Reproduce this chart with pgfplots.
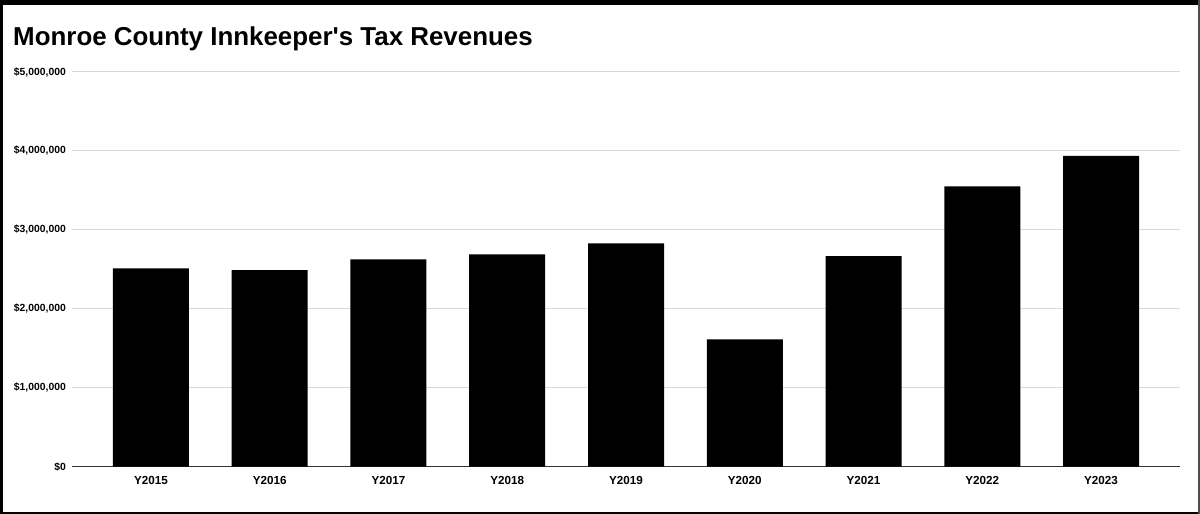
\documentclass[border=0pt]{standalone}
\usepackage{fontspec}
\setmainfont{Liberation Sans}
\usepackage{pgfplots}
\pgfplotsset{compat=1.18}
\definecolor{gridgray}{HTML}{D9D9D9}
\begin{document}
\begin{tikzpicture}
\useasboundingbox (0bp,0bp) rectangle (1200bp,514bp);
\fill[white] (0bp,0bp) rectangle (1200bp,514bp);
\begin{axis}[
  at={(72bp,47.3bp)}, anchor=south west,
  scale only axis, width=1108bp, height=394.7bp,
  ybar, bar width=76bp,
  xmin=-0.665, xmax=8.665, ymin=0, ymax=5000000,
  scaled y ticks=false,
  xtick=data,
  xticklabels={Y2015,Y2016,Y2017,Y2018,Y2019,Y2020,Y2021,Y2022,Y2023},
  ytick={0,1000000,2000000,3000000,4000000,5000000},
  yticklabels={{\$0},{\$1,000,000},{\$2,000,000},{\$3,000,000},{\$4,000,000},{\$5,000,000}},
  axis x line*=bottom, axis y line*=left,
  y axis line style={draw=none},
  x axis line style={black!80, line width=1bp},
  tick style={draw=none}, major tick length=0pt,
  ymajorgrids, grid style={gridgray, line width=1bp},
  y tick label style={font=\bfseries\fontsize{10.4}{12}\selectfont, anchor=east, inner sep=0pt, xshift=-6bp},
  x tick label style={font=\bfseries\fontsize{11.7}{13}\selectfont, anchor=north, inner sep=0pt, yshift=-9bp},
  clip=false,
]
\addplot[fill=black, draw=none] coordinates {
  (0,2511000) (1,2490000) (2,2625000) (3,2689000) (4,2828000)
  (5,1613000) (6,2667000) (7,3550000) (8,3937000)};
\end{axis}
\node[anchor=base west, font=\bfseries\fontsize{26}{28}\selectfont, inner sep=0pt] at (13bp,468bp) {Monroe County Innkeeper\textquotesingle s Tax Revenues};
\fill[black] (0bp,509bp) rectangle (1200bp,514bp);
\fill[black] (0bp,0bp) rectangle (3bp,514bp);
\fill[black] (0bp,0bp) rectangle (1200bp,2bp);
\fill[black!70] (1198bp,0bp) rectangle (1200bp,514bp);
\end{tikzpicture}
\end{document}
